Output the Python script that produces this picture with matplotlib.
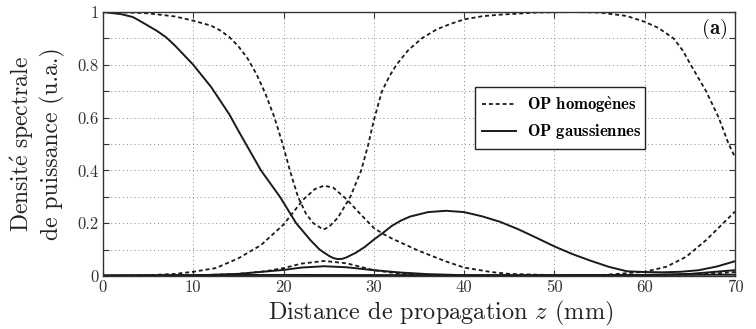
import matplotlib
matplotlib.use("Agg")
import matplotlib.pyplot as plt
from matplotlib.lines import Line2D

plt.rcParams['font.family'] = ['serif']
plt.rcParams['font.serif'] = ['cmr10', 'DejaVu Serif']
plt.rcParams['mathtext.fontset'] = 'cm'
plt.rcParams['axes.formatter.use_mathtext'] = True

# ---- data ----
# homogeneous OP (dashed), main curve
h1_z = [0, 3, 5, 8, 10, 12, 13, 14, 15, 16, 17, 18, 19.0, 19.9, 20.7, 21.6, 22.5,
        23.3, 24.4, 25, 26, 27.4, 28.6, 29.4, 30, 30.9, 31.7, 32.5, 33.8, 35.3, 37, 38.5,
        40, 42, 44, 48, 52, 55, 58, 60, 61.5, 63.2, 64.2, 65.1, 66.8, 68.2, 69.3, 70]
h1_y = [1.0, 0.998, 0.995, 0.983, 0.967, 0.948, 0.93, 0.905, 0.87, 0.825, 0.765, 0.69,
        0.60, 0.50, 0.40, 0.30, 0.235, 0.20, 0.176, 0.185, 0.22, 0.30, 0.40, 0.50, 0.59,
        0.70, 0.755, 0.80, 0.855, 0.90, 0.935, 0.955, 0.972, 0.984, 0.99, 0.998, 1.0,
        0.998, 0.985, 0.963, 0.94, 0.90, 0.855, 0.80, 0.70, 0.60, 0.50, 0.45]
# homogeneous OP (dashed), second curve
h2_z = [0, 5, 8, 10, 12.5, 15, 17.5, 20, 22.2, 23.5, 24.5, 25.5, 27, 28.5, 30, 31, 32,
        35, 38, 40, 43, 45, 50, 55, 57, 60, 62.4, 64.6, 66.8, 68.7, 70]
h2_y = [0.0, 0.003, 0.008, 0.016, 0.03, 0.067, 0.117, 0.195, 0.29, 0.33, 0.342, 0.335,
        0.29, 0.235, 0.182, 0.16, 0.142, 0.095, 0.055, 0.032, 0.015, 0.008, 0.003, 0.003,
        0.008, 0.016, 0.035, 0.073, 0.136, 0.20, 0.244]
# homogeneous OP (dashed), third curve
h3_z = [0, 10, 15, 18, 20, 22, 24.5, 27, 30, 33, 36, 40, 50, 60, 65, 68, 70]
h3_y = [0.0, 0.002, 0.008, 0.018, 0.03, 0.047, 0.057, 0.048, 0.022, 0.008, 0.003, 0.001,
        0.0, 0.002, 0.006, 0.01, 0.015]
# gaussian OP (solid), main curve
g1_z = [0, 2, 3.3, 4, 6, 7, 8, 10, 12, 14, 15, 16, 17.5, 19.6, 21.4, 23, 24, 25, 25.5,
        26, 26.5, 27, 28, 29, 30, 31, 32, 33, 34, 36, 38, 40, 42, 44, 46, 48, 50, 52,
        54, 56, 58, 60, 62, 64, 66, 68, 70]
g1_y = [1.0, 0.992, 0.981, 0.968, 0.928, 0.904, 0.872, 0.80, 0.715, 0.612, 0.55, 0.49,
        0.40, 0.30, 0.20, 0.135, 0.1, 0.077, 0.068, 0.064, 0.065, 0.071, 0.088, 0.11,
        0.138, 0.163, 0.19, 0.21, 0.225, 0.242, 0.247, 0.242, 0.226, 0.205, 0.177,
        0.145, 0.112, 0.083, 0.058, 0.035, 0.018, 0.015, 0.014, 0.016, 0.022, 0.036,
        0.056]
# gaussian OP (solid), second curve
g2_z = [0, 10, 15, 20, 22, 24.5, 27, 30, 33, 36, 40, 50, 60, 65, 70]
g2_y = [0.0, 0.002, 0.008, 0.023, 0.032, 0.037, 0.033, 0.022, 0.013, 0.007, 0.003,
        0.001, 0.004, 0.008, 0.022]
# gaussian OP (solid), third curve
g3_z = [0, 20, 40, 60, 70]
g3_y = [0.003, 0.004, 0.003, 0.004, 0.005]

x_ticks = [0, 10, 20, 30, 40, 50, 60, 70]
y_ticks = [0, 0.1, 0.2, 0.3, 0.4, 0.5, 0.6, 0.7, 0.8, 0.9, 1.0]
y_ticklabels = ['0', '', '0.2', '', '0.4', '', '0.6', '', '0.8', '', '1']
legend_labels = [r'$\mathbf{OP\ homog\grave{e}nes}$', r'$\mathbf{OP\ gaussiennes}$']

# ---- figure ----
fig = plt.figure(figsize=(7.56, 3.29), dpi=100)
ax = fig.add_axes([0.1362, 0.1611, 0.836, 0.8024])

col = '#1a1a1a'
dash = (0, (2.2, 1.6))
for z, y in [(h1_z, h1_y), (h2_z, h2_y), (h3_z, h3_y)]:
    ax.plot(z, y, color=col, lw=1.3, linestyle=dash)
for z, y in [(g1_z, g1_y), (g2_z, g2_y), (g3_z, g3_y)]:
    ax.plot(z, y, color=col, lw=1.4, linestyle='-')

ax.set_xlim(0, 70)
ax.set_ylim(0, 1)
ax.set_xticks(x_ticks)
ax.set_xticklabels([str(v) for v in x_ticks])
ax.set_yticks(y_ticks)
ax.set_yticklabels(y_ticklabels)
ax.tick_params(direction='in', top=True, right=True, length=4, labelsize=12,
               colors='#333333', labelcolor='#333333', pad=3)
ax.grid(True, linestyle=(0, (1, 3)), color='#888888', lw=0.7)
for s in ax.spines.values():
    s.set_color('#333333')
    s.set_linewidth(1.0)

ax.set_xlabel(r'Distance de propagation $z$ (mm)', fontsize=17.5, color='#222222')
ax.xaxis.set_label_coords(0.535, -0.085)
ax.set_ylabel('$\\mathrm{Densit\\acute{e}\\ spectrale}$\nde puissance (u.a.)',
              fontsize=17, color='#222222', linespacing=1.2)
ax.yaxis.set_label_coords(-0.06, 0.5)

ax.text(0.987, 0.935, r'$\mathbf{(a)}$', transform=ax.transAxes, ha='right', va='center',
        fontsize=15, color='#111111')

handles = [Line2D([0], [0], color=col, lw=1.3, linestyle=dash),
           Line2D([0], [0], color=col, lw=1.4, linestyle='-')]
leg = ax.legend(handles, legend_labels, loc='upper left',
                bbox_to_anchor=(0.5886, 0.485, 0.269, 0.231), mode='expand',
                fontsize=12, frameon=True, fancybox=False, edgecolor='#222222',
                framealpha=1, handlelength=2.0, borderpad=0.45, labelspacing=0.45,
                handletextpad=0.7, borderaxespad=0)
leg.get_frame().set_linewidth(1.0)

fig.savefig('out.png', dpi=100)
